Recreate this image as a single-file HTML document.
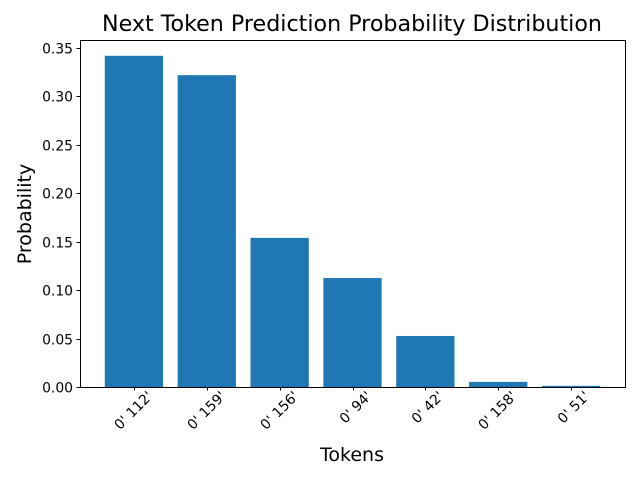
<!DOCTYPE html>
<html><head><meta charset="utf-8"><style>body{margin:0;background:#fff}svg{display:block;font-family:"DejaVu Sans","Liberation Sans",sans-serif}</style></head>
<body>
<svg id="chart" width="640" height="480" viewBox="0 0 640 480" xmlns="http://www.w3.org/2000/svg">
<rect width="640" height="480" fill="#fff"/>
<text x="352" y="31" font-size="22.2" text-anchor="middle">Next Token Prediction Probability Distribution</text>
<g id="bars"></g><g id="yt"></g><g id="xt"></g>
<rect x="80.5" y="40.5" width="545" height="347" fill="none" stroke="#000" stroke-width="1"/>
<text x="352" y="461" font-size="19" text-anchor="middle">Tokens</text>
<text transform="translate(31,214) rotate(-90)" font-size="19" text-anchor="middle">Probability</text>
</svg>
<script>
const categories = ["0' 112'","0' 159'","0' 156'","0' 94'","0' 42'","0' 158'","0' 51'"];
const values = [0.342, 0.322, 0.154, 0.1125, 0.0527, 0.0053, 0.0012];
const yTicks = [0,0.05,0.10,0.15,0.20,0.25,0.30,0.35];
const yLabels = ["0.00","0.05","0.10","0.15","0.20","0.25","0.30","0.35"];
const NS="http://www.w3.org/2000/svg";
const L=80,R=625,T=40,B=387, yMax=0.3583;
const n=categories.length, xmin=-0.74, xmax=n-1+0.74;
const xs=i=>L+(i-xmin)/(xmax-xmin)*(R-L);
const ys=v=>B-v/yMax*(B-T);
const bw=0.8*(R-L)/(xmax-xmin);
function mk(t,a,p){const e=document.createElementNS(NS,t);for(const k in a)e.setAttribute(k,a[k]);p.appendChild(e);return e;}
const gb=document.getElementById('bars'),gy=document.getElementById('yt'),gx=document.getElementById('xt');
values.forEach((v,i)=>{
 const r=mk('rect',{x:xs(i)-bw/2,y:ys(v),width:bw,height:B-ys(v),fill:'#1f77b4'},gb);
 
 
});
yTicks.forEach((t,i)=>{
 const y=Math.round(ys(t))+0.5;
 const l=mk('line',{x1:L-3.5,x2:L,y1:y,y2:y,stroke:'#000'},gy);
 
 
 const tx=mk('text',{x:L-7,y:y+5,'font-size':'13.9','text-anchor':'end'},gy);
 tx.textContent=yLabels[i];
 
 
});
categories.forEach((c,i)=>{
 const x=Math.round(xs(i))+0.5;
 const l=mk('line',{x1:x,x2:x,y1:B,y2:B+3.5,stroke:'#000'},gx);
 
 
 const ax=x+19,ay=B+10;
 const tx=mk('text',{x:ax,y:ay,'font-size':'13.9','text-anchor':'end',transform:`rotate(-45 ${ax} ${ay})`},gx);
 tx.textContent=c;
 
 
});
</script>
</body></html>
